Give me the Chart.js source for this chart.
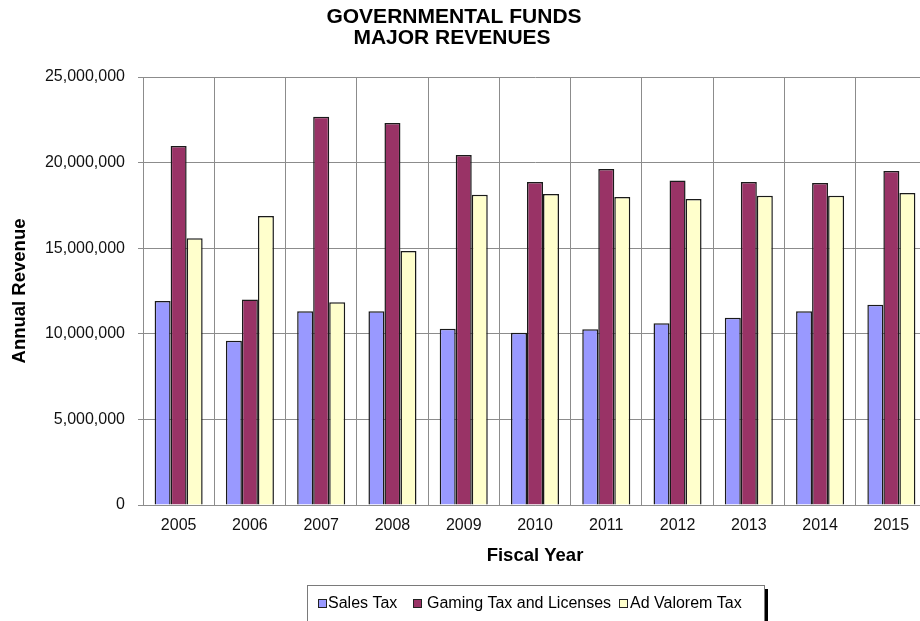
<!DOCTYPE html>
<html>
<head>
<meta charset="utf-8">
<script src="https://cdn.jsdelivr.net/npm/chart.js@4/dist/chart.umd.min.js"></script>
<style>
  html, body { margin: 0; padding: 0; background: #fff; overflow: hidden; }
  #wrap { position: absolute; left: 0; top: 0; width: 940px; height: 621px; }
</style>
</head>
<body>
<div id="wrap"><canvas id="chartFunds" width="940" height="621"></canvas></div>
<script>
const years = ["2005", "2006", "2007", "2008", "2009", "2010", "2011", "2012", "2013", "2014", "2015"];
const salesTax = [11920000, 9600000, 11310000, 11310000, 10290000, 10060000, 10260000, 10610000, 10940000, 11310000, 11700000];
const gamingTax = [20970000, 12010000, 22680000, 22310000, 20440000, 18870000, 19630000, 18960000, 18870000, 18810000, 19510000];
const adValorem = [15580000, 16880000, 11840000, 14840000, 18120000, 18160000, 17990000, 17870000, 18070000, 18070000, 18220000];
const yTicks = [0, 5000000, 10000000, 15000000, 20000000, 25000000];
const titleLines = ["GOVERNMENTAL FUNDS", "MAJOR REVENUES"];

const gridColor = "#8c8c8c";
const FONT = "Arial, 'Liberation Sans', sans-serif";

// title + boxed legend with shadow, drawn on top
const extras = {
  id: "extras",
  afterDraw(chart) {
    const ctx = chart.ctx;
    ctx.save();
    ctx.fillStyle = "#000";
    ctx.textAlign = "center";
    ctx.textBaseline = "middle";
    ctx.font = "bold 21px " + FONT;
    ctx.fillText(titleLines[0], 454, 17);
    ctx.fillText(titleLines[1], 452, 38);

    // legend frame
    ctx.fillStyle = "#000";
    ctx.fillRect(765, 589, 3, 40);
    ctx.strokeStyle = "#7a7a7a";
    ctx.lineWidth = 1;
    ctx.fillStyle = "#fff";
    ctx.fillRect(307.5, 585.5, 457, 40);
    ctx.strokeRect(307.5, 585.5, 457, 40);

    const boxX = [318, 413, 619];
    const textX = [328, 427, 630];
    ctx.font = "16px " + FONT;
    ctx.textAlign = "left";
    chart.data.datasets.forEach((ds, i) => {
      ctx.fillStyle = ds.backgroundColor;
      ctx.fillRect(boxX[i] + 0.5, 599.5, 8, 8);
      ctx.strokeStyle = "#222";
      ctx.strokeRect(boxX[i] + 0.5, 599.5, 8, 8);
      ctx.fillStyle = "#000";
      ctx.fillText(ds.label, textX[i], 604);
    });
    ctx.restore();
  },
};

const barStyle = { borderColor: "#1a1a1a", borderWidth: 1.5, borderSkipped: "start" };

new Chart(document.getElementById("chartFunds"), {
  type: "bar",
  data: {
    labels: years,
    datasets: [
      { label: "Sales Tax", data: salesTax, backgroundColor: "#9999ff", ...barStyle },
      { label: "Gaming Tax and Licenses", data: gamingTax, backgroundColor: "#993366", ...barStyle },
      { label: "Ad Valorem Tax", data: adValorem, backgroundColor: "#ffffcc", ...barStyle },
    ],
  },
  options: {
    responsive: false,
    animation: false,
    layout: { padding: { left: 0, right: 13, top: 77, bottom: 0 } },
    datasets: { bar: { categoryPercentage: 0.674, barPercentage: 1.0 } },
    plugins: {
      legend: { display: false },
      title: { display: false },
      tooltip: { enabled: false },
    },
    scales: {
      x: {
        grid: { color: gridColor, lineWidth: 1, drawTicks: false, offset: true },
        border: { color: gridColor },
        ticks: { color: "#111", font: { family: FONT, size: 16 }, padding: 11 },
        title: {
          display: true,
          text: "Fiscal Year",
          color: "#000",
          font: { family: FONT, size: 18.5, weight: "bold" },
          padding: { top: 4, bottom: 54 },
        },
        afterFit(scale) { scale.height = 116; },
      },
      y: {
        min: 0,
        max: 25000000,
        afterBuildTicks(scale) { scale.ticks = yTicks.map((v) => ({ value: v })); },
        grid: { color: gridColor, lineWidth: 1, tickLength: 5 },
        border: { color: gridColor },
        ticks: {
          color: "#111",
          font: { family: FONT, size: 16 },
          padding: 13,
          callback: (v) => Number(v).toLocaleString("en-US"),
        },
        title: {
          display: true,
          text: "Annual Revenue",
          color: "#000",
          font: { family: FONT, size: 18.5, weight: "bold" },
          padding: { top: 9, bottom: 0 },
        },
        afterFit(scale) { scale.width = 143; },
      },
    },
  },
  plugins: [extras],
});
</script>
</body>
</html>
